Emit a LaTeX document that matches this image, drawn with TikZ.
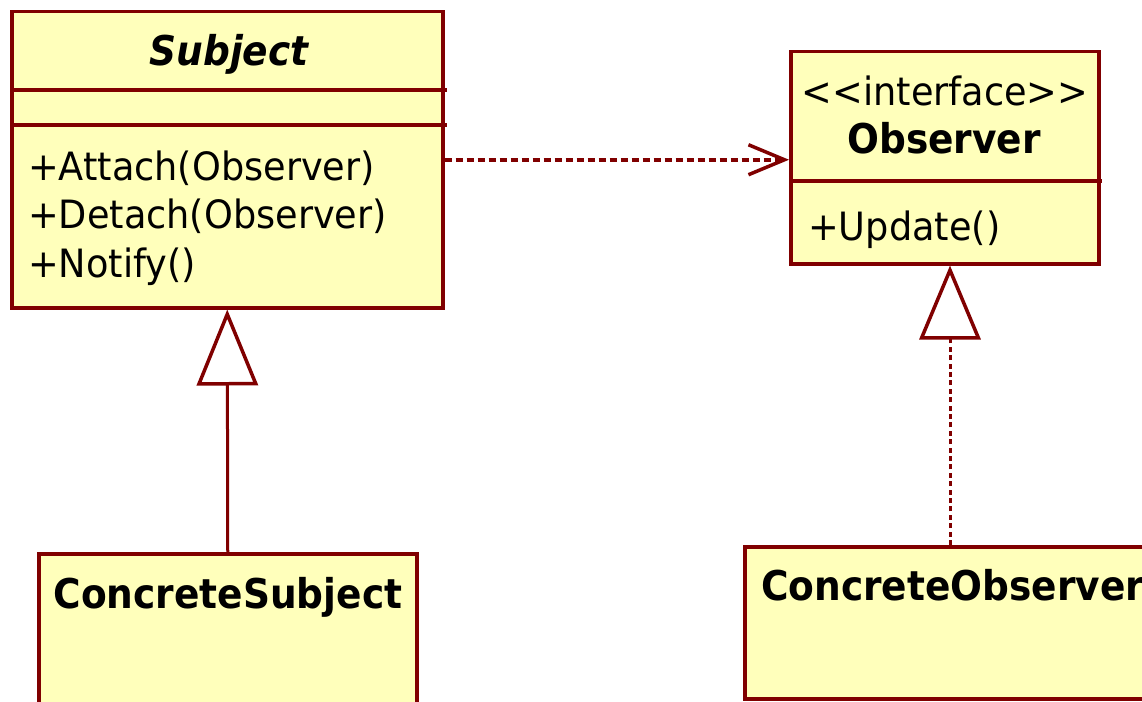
\documentclass[tikz,border=0pt]{standalone}
\usepackage{fontspec}
\newfontfamily\regf{DejaVu Sans}[FakeStretch=0.94]
\newfontfamily\boldf{DejaVu Sans}[FakeStretch=0.915]
\usetikzlibrary{arrows.meta}
\definecolor{umlred}{HTML}{800000}
\definecolor{umlfill}{HTML}{FFFFBB}
\tikzset{
  umlbox/.style={draw=umlred, fill=umlfill, line width=3.5pt, rectangle, inner sep=0pt, anchor=north west},
  septline/.style={draw=umlred, line width=3.5pt},
  txt/.style={inner sep=0pt, anchor=base west, font=\regf\fontsize{39}{48}\selectfont},
  btxt/.style={inner sep=0pt, anchor=base, font=\boldf\bfseries\fontsize{41}{48}\selectfont},
  depline/.style={draw=umlred, line width=4pt, dash pattern=on 7pt off 4pt,
    -{Straight Barb[length=36pt, width=30pt, line width=3.5pt]}},
  genline/.style={draw=umlred, line width=3pt,
    -{Triangle[length=76pt, width=61pt, line width=3.5pt, fill=white]}},
  realline/.style={draw=umlred, line width=3pt, dash pattern=on 5pt off 3.4pt,
    -{Triangle[length=74pt, width=61pt, line width=3.5pt, fill=white, sep=0pt]}},
}
\begin{document}
\begin{tikzpicture}[x=1pt, y=-1pt]
\clip (0,0) rectangle (1142,701);
\fill[white] (0,0) rectangle (1142,701);
% classes
\node[umlbox, minimum width=431pt, minimum height=296pt] (subj) at (10,10) {};
\draw[septline] (10,90) -- (447,90);
\draw[septline] (10,125) -- (447,125);
\node[umlbox, minimum width=308pt, minimum height=212pt] (obs) at (789,50) {};
\draw[septline] (789,181) -- (1102,181);
\node[umlbox, minimum width=378pt, minimum height=200pt] (csubj) at (37,552) {};
\node[umlbox, minimum width=450pt, minimum height=152pt] (cobs) at (743,545) {};
% texts
\node[btxt, font=\boldf\bfseries\itshape\fontsize{41}{48}\selectfont] (subjT) at (229,65) {Subject};
\node[txt] (m1) at (28,180) {+Attach(Observer)};
\node[txt] (m2) at (28,228) {+Detach(Observer)};
\node[txt] (m3) at (28,277) {+Notify()};
\node[txt, anchor=base] (stereo) at (945,105) {{<}{<}interface{>}{>}};
\node[btxt] (obsT) at (944,153) {Observer};
\node[txt] (upd) at (808,240) {+Update()};
\node[btxt] (csT) at (228,608) {ConcreteSubject};
\node[btxt, anchor=base west] (coT) at (761,600) {ConcreteObserver};
% connectors
\draw[depline] (subj.east) -- (subj.east -| obs.west);
\draw[genline] (csubj.north) -- (subj.south);
\coordinate (rt) at (950,545);
\draw[realline] (cobs.north -| rt) -- (obs.south -| rt);
\end{tikzpicture}
\end{document}
